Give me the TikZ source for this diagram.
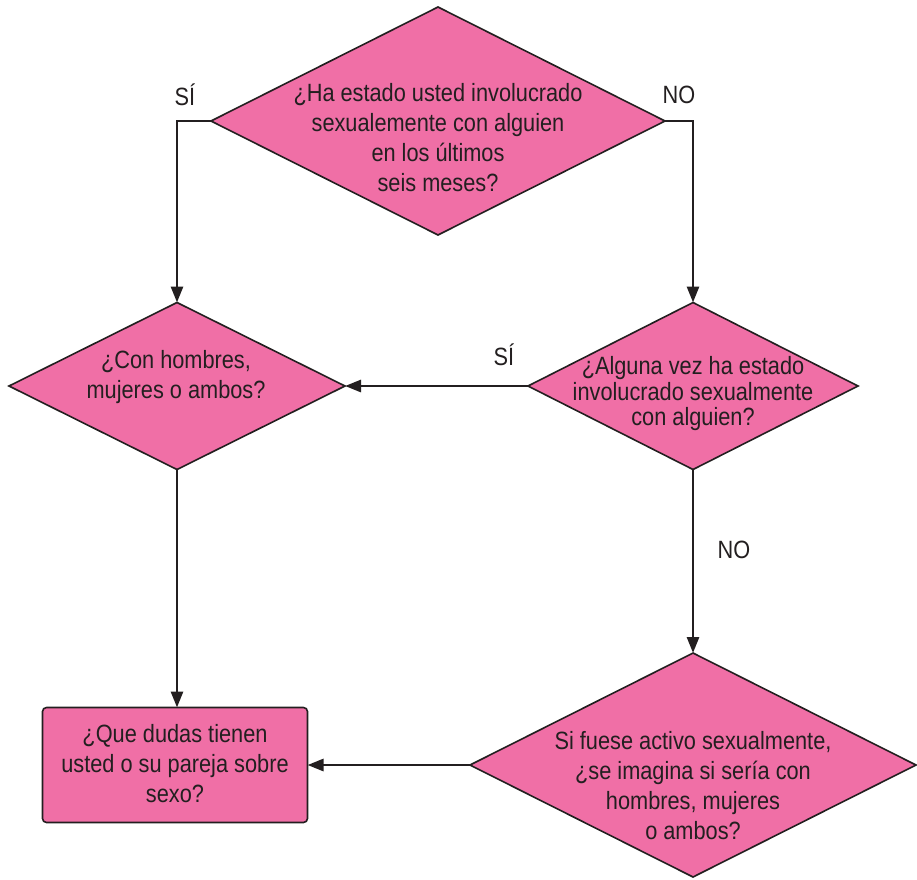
\documentclass[tikz,border=0pt]{standalone}
\usepackage{fontspec}
\setmainfont{Liberation Sans}[FakeStretch=0.87]
\usetikzlibrary{shapes.geometric,arrows.meta}
\definecolor{rosa}{RGB}{240,111,166}
\definecolor{tinta}{RGB}{35,31,32}

\begin{document}
\begin{tikzpicture}[x=1pt, y=-1pt, font=\fontsize{25}{30}\selectfont, text=tinta,
    pregunta/.style={diamond, draw=tinta, fill=rosa, line width=1.6pt, inner sep=0pt, outer sep=0pt},
    caja/.style={draw=tinta, fill=rosa, line width=1.6pt, rounded corners=4pt, minimum width=265pt, minimum height=115pt, outer sep=0pt},
    texto/.style={align=center, inner sep=0pt},
    etiqueta/.style={inner sep=0pt},
    flecha/.style={draw=tinta, line width=2.8pt, -{Triangle[length=16pt,width=12pt]}}]

    \useasboundingbox (0,0) rectangle (917,879);

    % Questions
    \node[pregunta, minimum width=454pt, minimum height=228pt] (q1) at (438,121) {};
    \node[pregunta, minimum width=336pt, minimum height=167pt] (q2) at (177,386) {};
    \node[pregunta, minimum width=330pt, minimum height=167pt] (q3) at (693,386) {};
    \node[pregunta, minimum width=446pt, minimum height=224pt] (q4) at (693,765) {};
    \node[caja] (r1) at (175,765) {};

    % Texts
    \node[texto] (q1t) at (438,138) {¿Ha estado usted involucrado\\sexualemente con alguien\\en los últimos\\seis meses?};
    \node[texto] (q2t) at (176,377) {¿Con hombres,\\mujeres o ambos?};
    \node[texto, font=\fontsize{25}{25.5}\selectfont] (q3t) at (693,394) {¿Alguna vez ha estado\\involucrado sexualmente\\con alguien?};
    \node[texto] (q4t) at (693,786) {Si fuese activo sexualmente,\\¿se imagina si sería con\\hombres, mujeres\\o ambos?};
    \node[texto] (r1t) at (175,764) {¿Que dudas tienen\\usted o su pareja sobre\\sexo?};

    % Connectors
    \draw[flecha] (q1.west) -| (q2.north);
    \draw[flecha] (q1.east) -| (q3.north);
    \draw[flecha] (q3.west) -- (q2.east);
    \draw[flecha] (q3.south) -- (q4.north);
    \draw[flecha] (q2.south) -- (q2.south |- r1.north);
    \draw[flecha] (q4.west) -- (r1.east);

    % Answers
    \node[etiqueta] (si1) at (185,95) {SÍ};
    \node[etiqueta] (no1) at (679,95) {NO};
    \node[etiqueta] (si2) at (504,355) {SÍ};
    \node[etiqueta] (no2) at (734,550) {NO};

\end{tikzpicture}
\end{document}
